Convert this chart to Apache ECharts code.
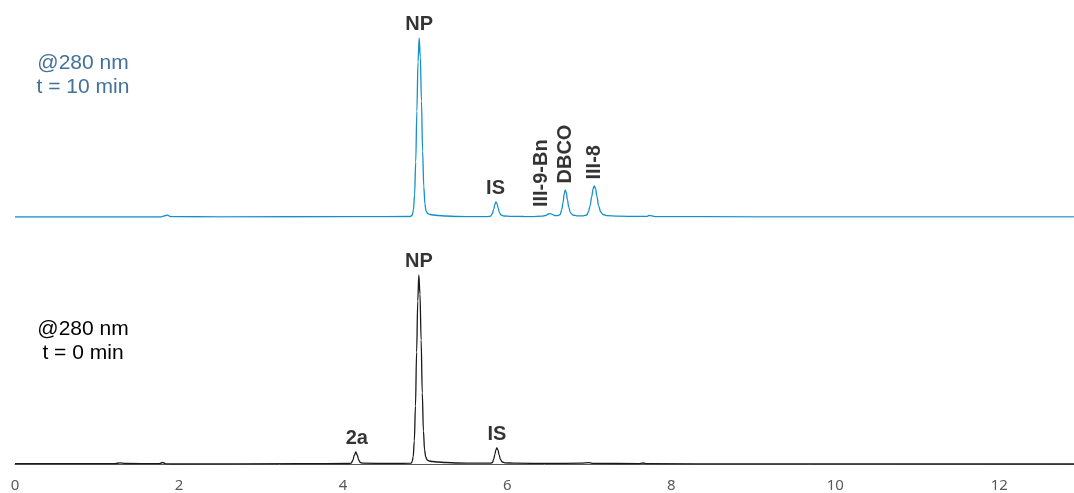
<!DOCTYPE html>
<html>
<head>
<meta charset="utf-8">
<script src="https://cdn.jsdelivr.net/npm/echarts@6/dist/echarts.min.js"></script>
<style>
html,body{margin:0;padding:0;background:#fff;}
#chart{width:1074px;height:493px;}
</style>
</head>
<body>
<div id="chart"></div>
<script>
// Retention time (min) vs absorbance at 280 nm (arbitrary units)
const topTrace = [
  [0,0],[1.78,0],[1.82,1.2],[1.86,1.8],[1.90,0.3],[2.5,0.2],[4.2,0.3],[4.82,0.5],
  [4.843,2],[4.857,7],[4.871,22],[4.885,55],[4.899,106],[4.913,155],[4.927,179],[4.941,160],
  [4.955,116],[4.969,66],[4.983,31],[4.997,13],[5.011,6],[5.03,3.5],[5.06,2.5],[5.10,2],
  [5.16,1.5],[5.25,1],[5.4,0.5],[5.6,0.4],[5.76,0.4],
  [5.80,1],[5.82,3.5],[5.835,7.5],[5.85,12.5],[5.862,15],[5.875,13.5],[5.89,9],[5.905,4.5],
  [5.925,2],[5.96,1],[6.05,0.6],[6.2,0.5],[6.30,0.4],[6.42,0.8],
  [6.47,1.5],[6.50,3],[6.525,3.4],[6.55,2.6],[6.58,1.5],[6.62,1.4],
  [6.645,2.5],[6.665,7],[6.68,14],[6.695,23],[6.707,27],[6.72,24.5],[6.735,17],[6.75,10],
  [6.77,4.5],[6.80,2],[6.85,1.2],[6.93,1.2],
  [6.97,2],[6.99,5],[7.01,11],[7.03,20],[7.047,28],[7.062,31],[7.077,28.5],[7.095,20],
  [7.115,11],[7.14,5],[7.17,2.5],[7.22,1.3],[7.35,0.8],[7.6,0.6],
  [7.70,0.6],[7.73,1.5],[7.76,1.2],[7.80,0.4],[9,0.2],[12.91,0.1]
];
const bottomTrace = [
  [0,0.3],[1.22,0.3],[1.28,1.2],[1.34,0.5],[1.76,0.4],[1.80,1.5],[1.84,0.2],[1.9,0],[3.5,0.3],[4.08,0.5],
  [4.10,1],[4.12,4],[4.135,8.5],[4.155,12],[4.172,9],[4.19,4],[4.21,1.5],[4.24,0.8],[4.6,0.6],[4.83,0.8],
  [4.84,2],[4.854,7],[4.868,23],[4.882,58],[4.896,112],[4.91,163],[4.923,189],[4.937,170],
  [4.951,124],[4.965,71],[4.979,33],[4.993,14],[5.007,7],[5.025,4],[5.05,3],[5.09,2.5],
  [5.15,2],[5.25,1.5],[5.4,1],[5.6,0.8],[5.80,0.8],
  [5.82,1.5],[5.835,4.5],[5.85,9.5],[5.862,14],[5.874,16],[5.888,14],[5.902,9],[5.918,4.5],
  [5.94,2],[5.97,1.2],[6.1,0.8],[6.5,0.6],[6.9,0.8],[7.0,1.3],[7.05,0.6],[7.6,0.4],
  [7.66,1],[7.70,0.3],[9,0.1],[12.91,0]
];
// Peak annotations: [label, time, height]
const topPeakLabels = [['NP',4.927,179],['IS',5.858,15]];
const topVerticalLabels = [['III-9-Bn',6.415,3.4],['DBCO',6.707,27],['III-8',7.062,31]];
const bottomPeakLabels = [['2a',4.167,12],['NP',4.923,189],['IS',5.874,16]];
const topCaption = ['@280 nm','t = 10 min'];
const bottomCaption = ['@280 nm','t = 0 min'];
const xTicks = {min:0, max:12.91, interval:2};

const chart = echarts.init(document.getElementById('chart'), null, {renderer:'canvas'});

const toItems = arr => arr.map(a => ({name:a[0], value:[a[1], a[2]]}));
const peakLabel = {
  show:true, position:'top', distance:3, formatter:'{b}',
  color:'#000', fontFamily:'Liberation Sans, Arial, sans-serif', fontWeight:'bold', fontSize:20
};
const vertLabel = Object.assign({}, peakLabel, {
  distance:6, rotate:90, align:'left', verticalAlign:'middle'
});
const hiddenDot = {color:'rgba(0,0,0,0)', borderWidth:0};

const option = {
  animation:false,
  backgroundColor:'#fff',
  grid:[
    {left:15, right:0, top:17, height:200},
    {left:15, right:0, top:264, height:200}
  ],
  xAxis:[
    {gridIndex:0, type:'value', min:xTicks.min, max:xTicks.max, show:false},
    {gridIndex:1, type:'value', min:xTicks.min, max:xTicks.max, interval:xTicks.interval,
     axisLine:{show:true, onZero:false, lineStyle:{color:'#595959', width:1}},
     axisTick:{show:false}, splitLine:{show:false},
     axisLabel:{color:'#595959', fontSize:15, margin:14, showMaxLabel:false,
       fontFamily:'Noto Sans, Open Sans, sans-serif'}}
  ],
  yAxis:[
    {gridIndex:0, type:'value', min:0, max:200, show:false},
    {gridIndex:1, type:'value', min:0, max:200, show:false}
  ],
  graphic:[
    {type:'text', x:83, y:51, style:{text:topCaption.join('\n'), fill:'#41719c',
      font:'21px "Liberation Sans", Arial, sans-serif', align:'center', verticalAlign:'top', lineHeight:24}},
    {type:'text', x:83, y:317, style:{text:bottomCaption.join('\n'), fill:'#000',
      font:'21px "Liberation Sans", Arial, sans-serif', align:'center', verticalAlign:'top', lineHeight:24}}
  ],
  series:[
    {type:'line', xAxisIndex:0, yAxisIndex:0, data:topTrace, showSymbol:false, symbol:'none',
     smooth:0.35, smoothMonotone:'x', lineStyle:{color:'#1390c8', width:1.3}, z:3},
    {type:'line', xAxisIndex:1, yAxisIndex:1, data:bottomTrace, showSymbol:false, symbol:'none',
     smooth:0.35, smoothMonotone:'x', lineStyle:{color:'#1a1a1a', width:1.3}, z:3},
    {type:'scatter', xAxisIndex:0, yAxisIndex:0, data:toItems(topPeakLabels), symbolSize:1,
     itemStyle:hiddenDot, label:peakLabel, silent:true, z:5},
    {type:'scatter', xAxisIndex:0, yAxisIndex:0, data:toItems(topVerticalLabels), symbolSize:1,
     itemStyle:hiddenDot, label:vertLabel, silent:true, z:5},
    {type:'scatter', xAxisIndex:1, yAxisIndex:1, data:toItems(bottomPeakLabels), symbolSize:1,
     itemStyle:hiddenDot, label:peakLabel, silent:true, z:5}
  ]
};
chart.setOption(option);
</script>
</body>
</html>
